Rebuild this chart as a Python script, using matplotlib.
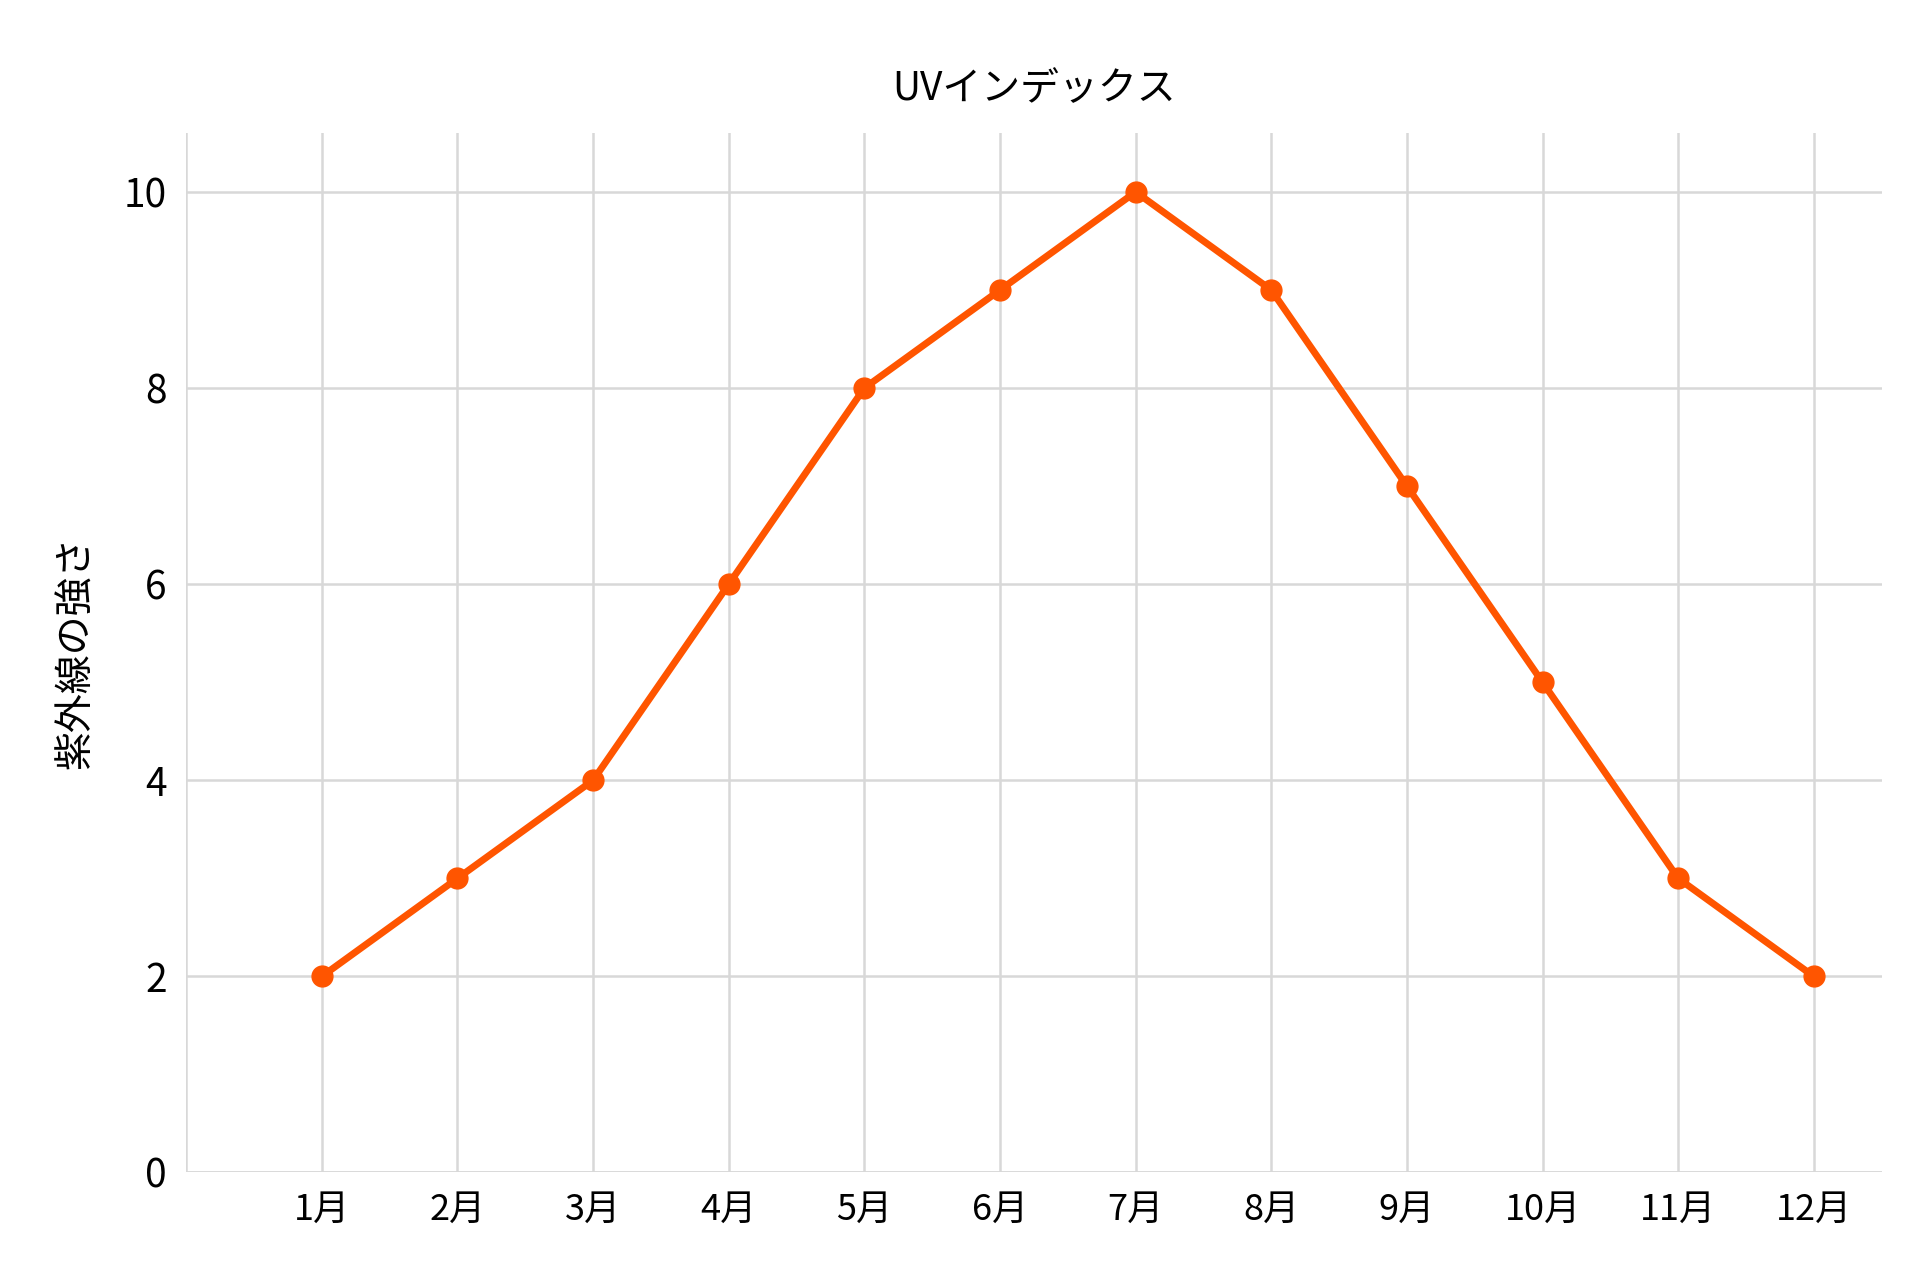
import matplotlib
matplotlib.use("Agg")
import matplotlib.pyplot as plt

plt.rcParams['font.family'] = ['Noto Sans CJK JP', 'DejaVu Sans']

months = [1, 2, 3, 4, 5, 6, 7, 8, 9, 10, 11, 12]
month_labels = [f"{m}月" for m in months]
uv = [2, 3, 4, 6, 8, 9, 10, 9, 7, 5, 3, 2]

fig = plt.figure(figsize=(19.2, 12.8), dpi=100)
ax = fig.add_axes([0.097, 0.084, 0.883, 0.812])
ax.plot(months, uv, color='#FF5500', lw=5, marker='o', ms=15, zorder=3)
ax.set_xlim(0, 12.5)
ax.set_ylim(0, 10.6)
ax.set_xticks(range(0, 13))
ax.set_xticklabels([''] + month_labels, fontsize=26)
ax.set_yticks([0, 2, 4, 6, 8, 10])
ax.tick_params(axis='y', labelsize=28, length=0, pad=14)
ax.tick_params(axis='x', length=0, pad=14)
ax.grid(True, color='#d8d8d8', lw=1.8)
for s in ax.spines.values():
    s.set_visible(False)
ax.axhline(0, color='#d8d8d8', lw=1.8)
ax.set_title('UVインデックス', fontsize=28, pad=24)
ax.set_ylabel('紫外線の強さ', fontsize=28, labelpad=20)
fig.savefig('out.png', dpi=100)
